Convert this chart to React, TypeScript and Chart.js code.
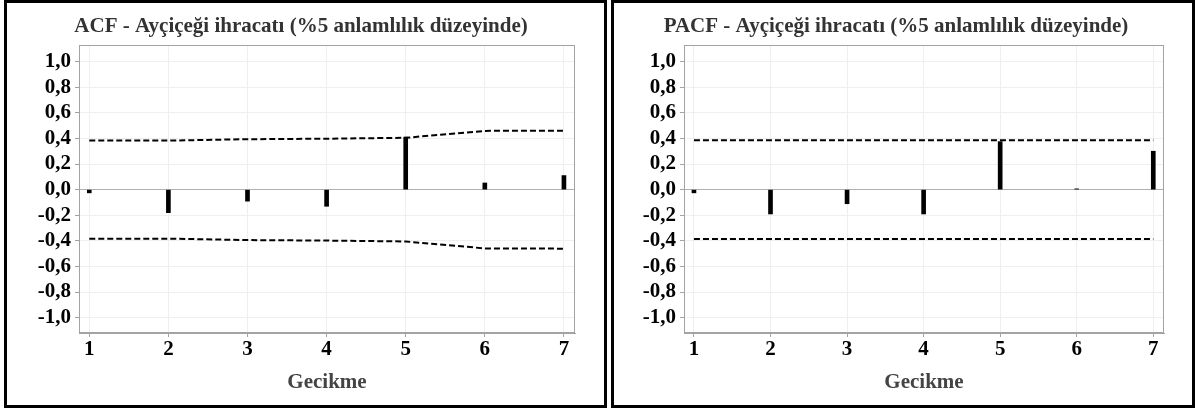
import React, { useEffect, useRef } from 'react';
import { Chart, registerables } from 'chart.js';

Chart.register(...registerables);

const lags = [1, 2, 3, 4, 5, 6, 7];
const yTickValues = [-1.0, -0.8, -0.6, -0.4, -0.2, 0.0, 0.2, 0.4, 0.6, 0.8, 1.0];

const acfValues = [-0.025, -0.18, -0.09, -0.13, 0.41, 0.052, 0.11];
const acfUpper = [0.383, 0.383, 0.394, 0.398, 0.405, 0.459, 0.461];
const acfLower = [-0.383, -0.383, -0.394, -0.398, -0.405, -0.459, -0.461];

const pacfValues = [-0.025, -0.19, -0.11, -0.19, 0.375, 0.006, 0.3];
const pacfUpper = [0.385, 0.385, 0.385, 0.385, 0.385, 0.385, 0.385];
const pacfLower = [-0.385, -0.385, -0.385, -0.385, -0.385, -0.385, -0.385];

const acfTitle = 'ACF - Ayçiçeği ihracatı (%5 anlamlılık düzeyinde)';
const pacfTitle = 'PACF - Ayçiçeği ihracatı (%5 anlamlılık düzeyinde)';
const xAxisTitle = 'Gecikme';

const FONT = '"Liberation Serif", "Times New Roman", serif';

type PanelProps = {
  title: string;
  values: number[];
  upper: number[];
  lower: number[];
  width: number;
  height: number;
  yAxisWidth: number;
  rightPad: number;
  titleX: number;
};

function Panel(props: PanelProps) {
  const ref = useRef<HTMLCanvasElement | null>(null);
  useEffect(() => {
    const canvas = ref.current;
    if (!canvas) return;
    const framePlugin = {
      id: 'frameAndTitle',
      afterDraw(chart: any) {
        const { ctx, chartArea } = chart;
        ctx.save();
        ctx.strokeStyle = '#a3a3a3';
        ctx.lineWidth = 1;
        ctx.strokeRect(
          Math.round(chartArea.left) + 0.5,
          Math.round(chartArea.top) + 0.5,
          Math.round(chartArea.right - chartArea.left) - 1,
          Math.round(chartArea.bottom - chartArea.top) - 1
        );
        ctx.fillStyle = '#333333';
        ctx.font = `bold 21px ${FONT}`;
        ctx.textAlign = 'center';
        ctx.textBaseline = 'middle';
        ctx.fillText(props.title, props.titleX, 24);
        ctx.restore();
      },
    };
    const dashed = (arr: number[]) => ({
      type: 'line' as const,
      data: lags.map((l, i) => ({ x: l, y: arr[i] })),
      borderColor: '#000000',
      borderWidth: 2,
      borderDash: [6, 3],
      pointRadius: 0,
      fill: false,
      tension: 0,
      order: 1,
    });
    const tickFont = { family: FONT, size: 21, weight: 'bold' as const };
    const chart = new Chart(canvas, {
      type: 'bar',
      data: {
        datasets: [
          dashed(props.upper),
          dashed(props.lower),
          {
            type: 'bar',
            data: lags.map((l, i) => ({ x: l, y: props.values[i] })),
            backgroundColor: '#000000',
            borderWidth: 0,
            barThickness: 4,
            order: 2,
          } as any,
        ],
      },
      options: {
        animation: false,
        responsive: false,
        layout: { padding: { top: 42, right: props.rightPad, left: 0, bottom: 0 } },
        plugins: {
          legend: { display: false },
          tooltip: { enabled: false },
          title: { display: false },
        },
        scales: {
          x: {
            type: 'linear',
            min: 0.87,
            max: 7.14,
            offset: false,
            afterBuildTicks: (s: any) => {
              s.ticks = lags.map((v) => ({ value: v }));
            },
            afterFit: (s: any) => {
              s.height = 72;
            },
            grid: {
              offset: false,
              color: '#efefef',
              tickColor: '#a3a3a3',
              tickLength: 4,
            },
            border: { color: '#a3a3a3' },
            ticks: {
              font: tickFont,
              color: '#000000',
              padding: 0,
              maxRotation: 0,
              autoSkip: false,
              callback: (v: any) => String(v),
            },
            title: {
              display: true,
              text: xAxisTitle,
              font: { family: FONT, size: 21, weight: 'bold' },
              color: '#444444',
              padding: { top: 0, bottom: 10 },
            },
          },
          y: {
            type: 'linear',
            min: -1.12,
            max: 1.13,
            afterBuildTicks: (s: any) => {
              s.ticks = yTickValues.map((v) => ({ value: v }));
            },
            afterFit: (s: any) => {
              s.width = props.yAxisWidth;
            },
            grid: {
              color: (c: any) => (c.tick && Math.abs(c.tick.value) < 1e-9 ? '#b0b0b0' : '#efefef'),
              tickColor: '#a3a3a3',
              tickLength: 4,
            },
            border: { color: '#a3a3a3' },
            ticks: {
              font: tickFont,
              color: '#000000',
              padding: 4,
              autoSkip: false,
              callback: (v: any) => Number(v).toFixed(1).replace('.', ','),
            },
          },
        },
      } as any,
      plugins: [framePlugin],
    } as any);
    return () => chart.destroy();
  }, []);
  return (
    <canvas
      ref={ref}
      width={props.width}
      height={props.height}
      style={{ display: 'block', width: props.width, height: props.height }}
    />
  );
}

export default function App() {
  const panelStyle = (left: number, width: number): React.CSSProperties => ({
    position: 'absolute',
    left,
    top: 0,
    width,
    height: 408,
    border: '3px solid #000',
    boxSizing: 'border-box',
    background: '#fff',
  });
  return (
    <div style={{ position: 'fixed', left: 0, top: 0, width: 1198, height: 414, background: '#fff' }}>
      <div style={panelStyle(4, 603)}>
        <Panel
          title={acfTitle}
          values={acfValues}
          upper={acfUpper}
          lower={acfLower}
          width={597}
          height={402}
          yAxisWidth={72}
          rightPad={29}
          titleX={294}
        />
      </div>
      <div style={panelStyle(611, 584)}>
        <Panel
          title={pacfTitle}
          values={pacfValues}
          upper={pacfUpper}
          lower={pacfLower}
          width={578}
          height={402}
          yAxisWidth={70}
          rightPad={28}
          titleX={282}
        />
      </div>
    </div>
  );
}
